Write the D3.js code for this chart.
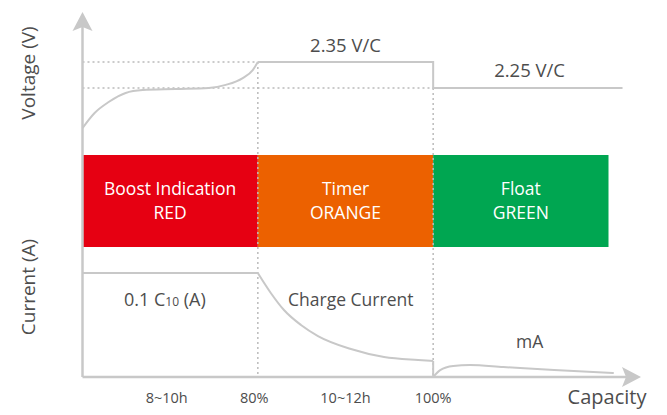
<!DOCTYPE html>
<html>
<head>
<meta charset="utf-8">
<script src="https://cdn.jsdelivr.net/npm/d3@7"></script>
<style>
  body { margin: 0; background: #fff; }
  svg { font-family: "Open Sans", sans-serif; }
</style>
</head>
<body>
<svg></svg>
<script>
var width = 667;
var height = 415;

// Charging stages and their LED colours
var stages = ['Boost Indication', 'Timer', 'Float'];
var ledNames = ['RED', 'ORANGE', 'GREEN'];

// x in "stage units": 0 = start, 1 = 80%, 2 = 100%, 3 = end of float band
var tickPos = [0.48, 0.98, 1.5, 2];
var tickLabels = ['8~10h', '80%', '10~12h', '100%'];

// Voltage levels (V/C)
var boostLevel = 2.35;
var floatLevel = 2.25;
var lineEnd = 3.08;

// Voltage rise during boost stage
var voltageRise = [
    [0, 2.096], [0.069, 2.154], [0.149, 2.196], [0.246, 2.231], [0.343, 2.242],
    [0.531, 2.246], [0.72, 2.25], [0.817, 2.262], [0.914, 2.288], [0.971, 2.319], [1, 2.35]
];

// Current, relative to 0.1 C10
var chargeDecay = [
    [1, 1], [1.074, 0.808], [1.149, 0.644], [1.246, 0.5], [1.343, 0.394],
    [1.531, 0.269], [1.72, 0.192], [1.914, 0.163], [2, 0.154]
];
var floatCurrent = [
    [2, 0], [2.04, 0.067], [2.114, 0.106], [2.21, 0.115], [2.4, 0.096], [2.69, 0.067], [3.03, 0.038]
];

var stageColor = d3.scaleOrdinal()
                    .domain(stages)
                    .range(['#e60012', '#ec6100', '#00a651']);

var x = d3.scaleLinear().domain([0, 3]).range([82.5, 608.5]);
var yV = d3.scaleLinear().domain([floatLevel, boostLevel]).range([88, 62]);
var yI = d3.scaleLinear().domain([0, 1]).range([377, 273]);

var lineColor = '#c8c8c8';
var textColor = '#4d4d4d';
var bandTop = 155, bandBottom = 247;
var axisTop = 12, axisRight = 641;

var svg = d3.select('svg')
    .attr('width', width)
    .attr('height', height);

// Colour bands
var bands = svg.append('g');
bands.selectAll('rect')
    .data(stages)
    .enter()
    .append('rect')
        .attr('x', (d, i) => x(i))
        .attr('y', bandTop)
        .attr('width', (d, i) => x(i + 1) - x(i))
        .attr('height', bandBottom - bandTop)
        .attr('fill', d => stageColor(d));

bands.selectAll('text.stage')
    .data(stages)
    .enter()
    .append('text')
        .attr('x', (d, i) => x(i + 0.5))
        .attr('y', 195)
        .attr('text-anchor', 'middle')
        .attr('fill', '#fff')
        .attr('font-size', 17.5)
        .text(d => d);

bands.selectAll('text.led')
    .data(ledNames)
    .enter()
    .append('text')
        .attr('x', (d, i) => x(i + 0.5))
        .attr('y', 219)
        .attr('text-anchor', 'middle')
        .attr('fill', '#fff')
        .attr('font-size', 17.5)
        .text(d => d);

// Dotted guide lines
var guides = svg.append('g')
    .attr('stroke', '#bbb')
    .attr('stroke-width', 1.5)
    .attr('stroke-dasharray', '2,3');

guides.append('line')
    .attr('x1', x(0)).attr('x2', x(1))
    .attr('y1', yV(boostLevel)).attr('y2', yV(boostLevel));
guides.append('line')
    .attr('x1', x(0)).attr('x2', x(2))
    .attr('y1', yV(floatLevel)).attr('y2', yV(floatLevel));
guides.append('line')
    .attr('x1', x(1)).attr('x2', x(1))
    .attr('y1', yV(boostLevel)).attr('y2', yI(0));
guides.append('line')
    .attr('x1', x(2)).attr('x2', x(2))
    .attr('y1', yV(floatLevel)).attr('y2', yI(0));

// Voltage line
var vLine = d3.line()
    .x(d => x(d[0]))
    .y(d => yV(d[1]));

svg.append('path')
    .attr('d', vLine.curve(d3.curveMonotoneX)(voltageRise))
    .attr('fill', 'none')
    .attr('stroke', lineColor)
    .attr('stroke-width', 2);

svg.append('path')
    .attr('d', vLine.curve(d3.curveLinear)([[1, boostLevel], [2, boostLevel], [2, floatLevel], [lineEnd, floatLevel]]))
    .attr('fill', 'none')
    .attr('stroke', lineColor)
    .attr('stroke-width', 2);

// Current line
var iLine = d3.line()
    .x(d => x(d[0]))
    .y(d => yI(d[1]));

svg.append('path')
    .attr('d', iLine.curve(d3.curveLinear)([[0, 1], [1, 1]]))
    .attr('fill', 'none')
    .attr('stroke', lineColor)
    .attr('stroke-width', 2);

svg.append('path')
    .attr('d', iLine.curve(d3.curveMonotoneX)(chargeDecay))
    .attr('fill', 'none')
    .attr('stroke', lineColor)
    .attr('stroke-width', 2);

svg.append('path')
    .attr('d', iLine.curve(d3.curveLinear)([[2, chargeDecay[chargeDecay.length - 1][1]], [2, 0]]))
    .attr('fill', 'none')
    .attr('stroke', lineColor)
    .attr('stroke-width', 2);

svg.append('path')
    .attr('d', iLine.curve(d3.curveMonotoneX)(floatCurrent))
    .attr('fill', 'none')
    .attr('stroke', lineColor)
    .attr('stroke-width', 2);

// Axes with arrow heads
var axes = svg.append('g');
axes.append('line')
    .attr('x1', x(0)).attr('x2', x(0))
    .attr('y1', axisTop + 8).attr('y2', yI(0))
    .attr('stroke', lineColor)
    .attr('stroke-width', 2.5);
axes.append('line')
    .attr('x1', x(0)).attr('x2', axisRight - 8)
    .attr('y1', yI(0)).attr('y2', yI(0))
    .attr('stroke', lineColor)
    .attr('stroke-width', 2.5);

var ax = x(0), ay = yI(0);
axes.append('path')
    .attr('d', `M${ax},${axisTop} L${ax + 10},${axisTop + 19} L${ax},${axisTop + 15} L${ax - 10},${axisTop + 19} Z`)
    .attr('fill', lineColor);
axes.append('path')
    .attr('d', `M${axisRight},${ay} L${axisRight - 19},${ay - 10} L${axisRight - 15},${ay} L${axisRight - 19},${ay + 10} Z`)
    .attr('fill', lineColor);

// Tick labels
svg.append('g')
    .selectAll('text')
    .data(tickLabels)
    .enter()
    .append('text')
        .attr('x', (d, i) => x(tickPos[i]))
        .attr('y', 403)
        .attr('text-anchor', 'middle')
        .attr('fill', textColor)
        .attr('font-size', 14.5)
        .text(d => d);

svg.append('text')
    .attr('x', 607)
    .attr('y', 404)
    .attr('text-anchor', 'middle')
    .attr('fill', textColor)
    .attr('font-size', 20)
    .text('Capacity');

// Axis titles
svg.append('text')
    .attr('transform', 'translate(35, 73) rotate(-90)')
    .attr('text-anchor', 'middle')
    .attr('fill', textColor)
    .attr('font-size', 19)
    .text('Voltage (V)');

svg.append('text')
    .attr('transform', 'translate(35, 287) rotate(-90)')
    .attr('text-anchor', 'middle')
    .attr('fill', textColor)
    .attr('font-size', 19)
    .text('Current (A)');

// Annotations
svg.append('text')
    .attr('x', x(1.5))
    .attr('y', 52)
    .attr('text-anchor', 'middle')
    .attr('fill', textColor)
    .attr('font-size', 18.5)
    .text(boostLevel.toFixed(2) + ' V/C');

svg.append('text')
    .attr('x', x(2.55))
    .attr('y', 77)
    .attr('text-anchor', 'middle')
    .attr('fill', textColor)
    .attr('font-size', 18.5)
    .text(floatLevel.toFixed(2) + ' V/C');

var c10 = svg.append('text')
    .attr('x', x(0.47))
    .attr('y', 306)
    .attr('text-anchor', 'middle')
    .attr('fill', textColor)
    .attr('font-size', 18);
c10.append('tspan').text('0.1 C');
c10.append('tspan').attr('font-size', 12).text('10');
c10.append('tspan').text(' (A)');

svg.append('text')
    .attr('x', x(1.53))
    .attr('y', 306)
    .attr('text-anchor', 'middle')
    .attr('fill', textColor)
    .attr('font-size', 17.5)
    .text('Charge Current');

svg.append('text')
    .attr('x', x(2.55))
    .attr('y', 348)
    .attr('text-anchor', 'middle')
    .attr('fill', textColor)
    .attr('font-size', 17.5)
    .text('mA');
</script>
</body>
</html>
